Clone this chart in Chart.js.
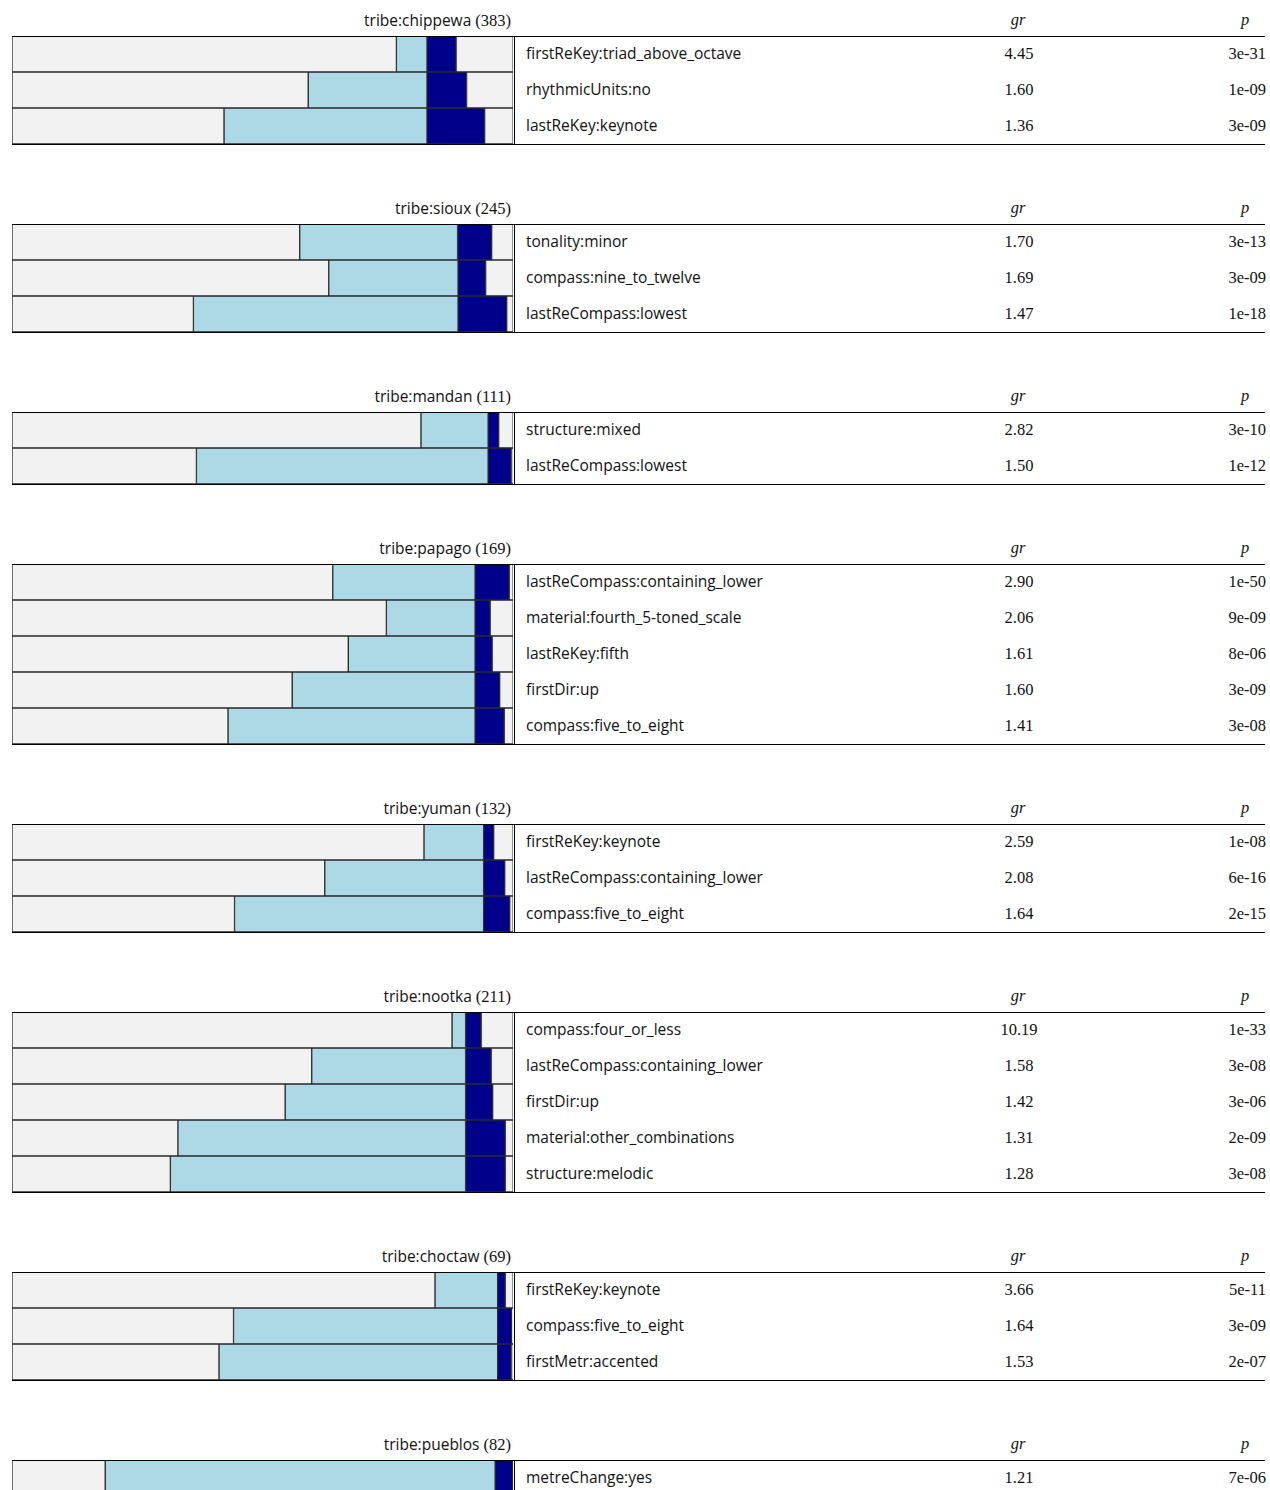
<!DOCTYPE html>
<html>
<head>
<meta charset="utf-8">
<script src="https://cdn.jsdelivr.net/npm/chart.js@4.4.1/dist/chart.umd.min.js"></script>
<style>
  html, body { margin:0; padding:0; background:#fff; }
  body { width:1270px; height:1490px; position:relative; overflow:hidden; }
  .abs { position:absolute; white-space:nowrap; }
  .sans { font-family:"Open Sans", "DejaVu Sans", sans-serif; font-size:15.5px; color:#111; }
  .serif { font-family:"Liberation Serif", "DejaVu Serif", serif; font-size:16.5px; color:#111; }
  .ital { font-style:italic; }
  .rule { position:absolute; background:#000; }
</style>
</head>
<body>
<script>
// ---- data ----
const tribes = ['chippewa','sioux','mandan','papago','yuman','nootka','choctaw','pueblos'];
const tribeSizes = [383, 245, 111, 169, 132, 211, 69, 82];
const features = [
  ['firstReKey:triad_above_octave','rhythmicUnits:no','lastReKey:keynote'],
  ['tonality:minor','compass:nine_to_twelve','lastReCompass:lowest'],
  ['structure:mixed','lastReCompass:lowest'],
  ['lastReCompass:containing_lower','material:fourth_5-toned_scale','lastReKey:fifth','firstDir:up','compass:five_to_eight'],
  ['firstReKey:keynote','lastReCompass:containing_lower','compass:five_to_eight'],
  ['compass:four_or_less','lastReCompass:containing_lower','firstDir:up','material:other_combinations','structure:melodic'],
  ['firstReKey:keynote','compass:five_to_eight','firstMetr:accented'],
  ['metreChange:yes']
];
const grValues = [
  ['4.45','1.60','1.36'],
  ['1.70','1.69','1.47'],
  ['2.82','1.50'],
  ['2.90','2.06','1.61','1.60','1.41'],
  ['2.59','2.08','1.64'],
  ['10.19','1.58','1.42','1.31','1.28'],
  ['3.66','1.64','1.53'],
  ['1.21']
];
const pValues = [
  ['3e-31','1e-09','3e-09'],
  ['3e-13','3e-09','1e-18'],
  ['3e-10','1e-12'],
  ['1e-50','9e-09','8e-06','3e-09','3e-08'],
  ['1e-08','6e-16','2e-15'],
  ['1e-33','3e-08','3e-06','2e-09','3e-08'],
  ['5e-11','3e-09','2e-07'],
  ['7e-06']
];
// share of all songs (%): other tribes without feature / other tribes with feature / tribe with feature / tribe without feature
const otherNoFeat = [
  [76.7, 59.1, 42.3],
  [57.4, 63.2, 36.2],
  [81.6, 36.8],
  [64.0, 74.7, 67.1, 55.9, 43.1],
  [82.2, 62.4, 44.4],
  [87.8, 59.8, 54.5, 33.1, 31.6],
  [84.4, 44.2, 41.3],
  [18.6]
];
const otherFeat = [
  [6.1, 23.7, 40.5],
  [31.5, 25.8, 52.8],
  [13.4, 58.2],
  [28.4, 17.7, 25.3, 36.5, 49.3],
  [11.9, 31.7, 49.7],
  [2.7, 30.7, 36.0, 57.4, 58.9],
  [12.5, 52.7, 55.6],
  [77.8]
];
const tribeFeat = [
  [5.8, 7.9, 11.5],
  [6.8, 5.5, 9.7],
  [2.1, 4.6],
  [6.8, 3.0, 3.4, 4.9, 5.8],
  [2.0, 4.2, 5.2],
  [3.1, 5.1, 5.4, 7.9, 7.9],
  [1.5, 2.8, 2.7],
  [3.5]
];
const tribeNoFeat = [
  [11.4, 9.3, 5.7],
  [4.3, 5.5, 1.3],
  [2.9, 0.4],
  [0.8, 4.6, 4.2, 2.7, 1.8],
  [3.9, 1.7, 0.7],
  [6.4, 4.4, 4.1, 1.6, 1.6],
  [1.6, 0.3, 0.4],
  [0.1]
];

// ---- layout ----
const ROW = 36, GAP = 80, FIRST_TOP = 36;
const BAR_LEFT = 11.5, BAR_W = 501.2;
const COLORS = ['#f2f2f2', '#add8e6', '#00008b', '#f2f2f2'];

function el(cls, html, style) {
  const d = document.createElement('div');
  d.className = cls;
  d.innerHTML = html;
  Object.assign(d.style, style);
  document.body.appendChild(d);
  return d;
}

let groupTop = FIRST_TOP;
tribes.forEach((t, gi) => {
  const n = features[gi].length;
  const h = n * ROW;

  // header texts
  el('abs', '<span class="sans">tribe:' + t + '</span> <span class="serif">(' + tribeSizes[gi] + ')</span>',
     { right: (1270 - 511) + 'px', top: (groupTop - 28) + 'px', lineHeight: '24px' });
  el('abs serif ital', 'gr', { left: '968px', width: '100px', textAlign: 'center', top: (groupTop - 28) + 'px', lineHeight: '24px' });
  el('abs serif ital', 'p', { left: '1195px', width: '100px', textAlign: 'center', top: (groupTop - 28) + 'px', lineHeight: '24px' });

  // chart of stacked bars
  const box = document.createElement('div');
  Object.assign(box.style, { position: 'absolute', left: BAR_LEFT + 'px', top: groupTop + 'px', width: BAR_W + 'px', height: h + 'px' });
  const cv = document.createElement('canvas');
  box.appendChild(cv);
  document.body.appendChild(box);

  const series = [otherNoFeat[gi], otherFeat[gi], tribeFeat[gi], tribeNoFeat[gi]];
  new Chart(cv, {
    type: 'bar',
    data: {
      labels: features[gi],
      datasets: series.map((d, si) => ({
        data: d,
        backgroundColor: COLORS[si],
        borderColor: '#2a2a2a',
        borderWidth: 1,
        borderSkipped: false,
        barPercentage: 1,
        categoryPercentage: 1
      }))
    },
    options: {
      indexAxis: 'y',
      responsive: true,
      maintainAspectRatio: false,
      animation: false,
      events: [],
      layout: { padding: 0 },
      plugins: { legend: { display: false }, tooltip: { enabled: false } },
      scales: {
        x: { stacked: true, min: 0, max: 100, display: false },
        y: { stacked: true, display: false }
      }
    }
  });

  // rows of the table
  features[gi].forEach((f, ri) => {
    const y = groupTop + ri * ROW;
    el('abs sans', f, { left: '526px', top: (y - 1) + 'px', lineHeight: ROW + 'px' });
    el('abs serif', grValues[gi][ri], { left: '969px', width: '100px', textAlign: 'center', top: (y - 0.5) + 'px', lineHeight: ROW + 'px' });
    el('abs serif', pValues[gi][ri], { right: (1270 - 1266) + 'px', top: (y - 0.5) + 'px', lineHeight: ROW + 'px' });
  });

  // rules
  el('rule', '', { left: '12px', top: (groupTop - 0.5) + 'px', width: '1253px', height: '1px' });
  el('rule', '', { left: '12px', top: (groupTop + h - 0.5) + 'px', width: '1253px', height: '1px' });
  el('rule', '', { left: '513.8px', top: groupTop + 'px', width: '1px', height: h + 'px' });

  groupTop += h + GAP;
});
</script>
</body>
</html>
